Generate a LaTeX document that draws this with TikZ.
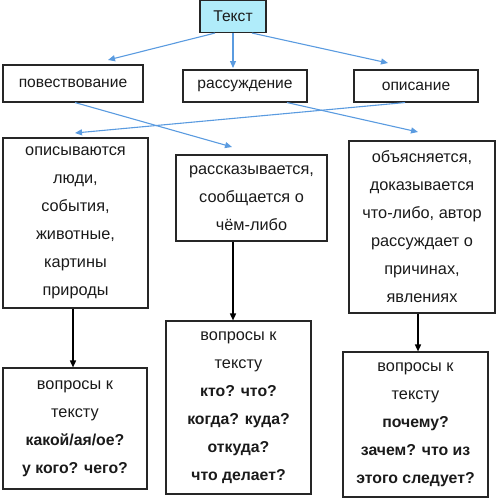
\documentclass[tikz,border=0pt]{standalone}
\usepackage{fontspec}
\setmainfont{Liberation Sans}
\usetikzlibrary{arrows.meta}
\definecolor{arrblue}{HTML}{5A9BE0}
\definecolor{boxcyan}{HTML}{B0ECFA}
\definecolor{txt}{HTML}{1A1A1A}
\begin{document}
\begin{tikzpicture}[x=1pt,y=-1pt,
  box/.style={draw=black!85,line width=1.1pt,inner sep=0pt,align=center,text=txt,
    font=\fontsize{16.3}{28}\selectfont},
  topbox/.style={box,font=\fontsize{15.6}{28}\selectfont},
  bluearr/.style={draw=arrblue,line width=1.1pt,-{Triangle[length=7pt,width=6pt]}},
  blackarr/.style={draw=black,line width=1.5pt,-{Triangle[length=7pt,width=6pt]}}]
\useasboundingbox (0,0) rectangle (500,498);
\node[topbox,fill=boxcyan,minimum width=66pt,minimum height=32pt] (t) at (233,16.5) {Текст};
\node[topbox,minimum width=140pt,minimum height=37pt] (pov) at (73,83.5) {повествование};
\node[topbox,minimum width=124pt,minimum height=32pt] (ras) at (245,86) {рассуждение};
\node[topbox,minimum width=124pt,minimum height=32pt] (opi) at (416,86) {описание};
\node[box,minimum width=145pt,minimum height=170pt] (b1) at (75.5,223)
  {описываются\\люди,\\события,\\животные,\\картины\\природы};
\node[box,minimum width=151pt,minimum height=86pt] (b2) at (251.5,198)
  {рассказывается,\\сообщается о\\чём-либо};
\node[box,minimum width=146pt,minimum height=172pt] (b3) at (422,227)
  {объясняется,\\доказывается\\что-либо, автор\\рассуждает о\\причинах,\\явлениях};
\node[box,minimum width=144pt,minimum height=121pt] (c1) at (75,428.5)
  {вопросы к\\тексту\\\textbf{\fontsize{15.8}{28}\selectfont какой/ая/ое?}\\\textbf{\fontsize{15.8}{28}\selectfont у кого? чего?}};
\node[box,minimum width=145pt,minimum height=173pt] (c2) at (238.5,407.5)
  {вопросы к\\тексту\\\textbf{\fontsize{15.8}{28}\selectfont кто? что?}\\\textbf{\fontsize{15.8}{28}\selectfont когда? куда?}\\\textbf{\fontsize{15.8}{28}\selectfont откуда?}\\\textbf{\fontsize{15.8}{28}\selectfont что делает?}};
\node[box,minimum width=145pt,minimum height=145pt] (c3) at (415.5,424.5)
  {вопросы к\\тексту\\\textbf{\fontsize{15.8}{28}\selectfont почему?}\\\textbf{\fontsize{15.8}{28}\selectfont зачем? что из}\\\textbf{\fontsize{15.8}{28}\selectfont этого следует?}};
% coordinates
\coordinate (s1) at (215,0);
\coordinate (s2) at (233,0);
\coordinate (s3) at (252,0);
\coordinate (e1) at (108,60);
\coordinate (e2) at (233,68);
\coordinate (e3) at (388,63);
\coordinate (p1) at (75,0);
\coordinate (q1) at (232,147);
\coordinate (p2) at (405,0);
\coordinate (q2) at (75,133);
\coordinate (p3) at (287,0);
\coordinate (q3) at (418,132);
\coordinate (m1) at (73,0);
\coordinate (m2) at (233,0);
\coordinate (m3) at (418,0);
% blue arrows
\draw[bluearr] (t.south -| s1) -- (e1);
\draw[bluearr] (t.south -| s2) -- (e2);
\draw[bluearr] (t.south -| s3) -- (e3);
\draw[bluearr] (pov.south -| p1) -- (q1);
\draw[bluearr] (opi.south -| p2) -- (q2);
\draw[bluearr] (ras.south -| p3) -- (q3);
% black arrows
\draw[blackarr] (b1.south -| m1) -- (c1.north -| m1);
\draw[blackarr] (b2.south -| m2) -- (c2.north -| m2);
\draw[blackarr] (b3.south -| m3) -- (c3.north -| m3);
\end{tikzpicture}
\end{document}
